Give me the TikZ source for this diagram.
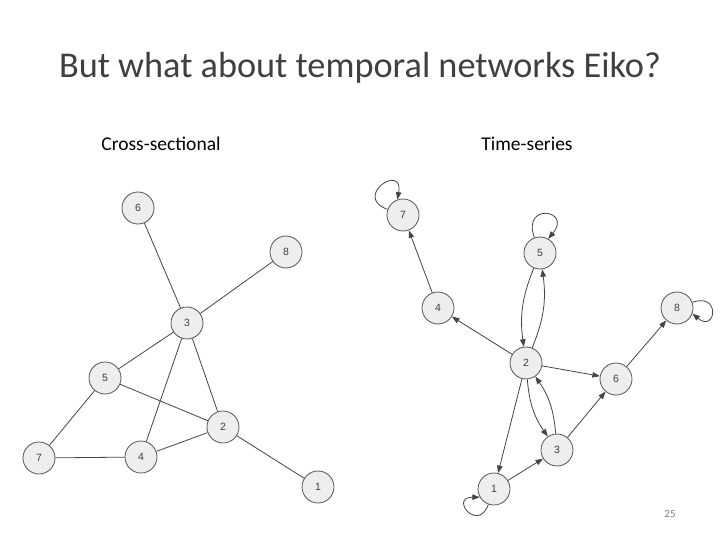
\documentclass[tikz,border=0pt]{standalone}
\usepackage{fontspec}
\setmainfont{Carlito}
\newfontfamily\nodefont{Liberation Sans}
\usetikzlibrary{arrows.meta}
\definecolor{edgecol}{HTML}{454545}
\definecolor{nodefill}{HTML}{EEEEEE}
\definecolor{nodedraw}{HTML}{555555}
\definecolor{textcol}{HTML}{404040}
\tikzset{
  vtx/.style={circle,draw=nodedraw,fill=nodefill,line width=0.8pt,minimum size=32pt,inner sep=0pt,font=\nodefont\fontsize{10.5}{12}\selectfont,text=textcol},
  edge/.style={draw=edgecol,line width=0.8pt},
  arr/.style={edge,-{Triangle[length=7.5pt,width=5.5pt]}},
  lp/.style={arr,looseness=7,min distance=15pt}
}
\begin{document}
\begin{tikzpicture}[x=1pt,y=-1pt]
\useasboundingbox (0,0) rectangle (720,540);
\fill[white] (0,0) rectangle (720,540);
\node[text=textcol,font=\fontsize{36.3}{40}\selectfont] (title) at (360,68) {But what about temporal networks Eiko?};
\node[text=black,font=\fontsize{19.5}{22}\selectfont] (lcap) at (161,144) {Cross-sectional};
\node[text=black,font=\fontsize{19.5}{22}\selectfont] (rcap) at (527,144) {Time-series};
\node[text=gray,font=\fontsize{11}{13}\selectfont] (page) at (670,514) {25};
% left graph
\node[vtx] (L6) at (138,208) {6};
\node[vtx] (L8) at (286,252) {8};
\node[vtx] (L3) at (187,323) {3};
\node[vtx] (L5) at (105,378) {5};
\node[vtx] (L2) at (223,427) {2};
\node[vtx] (L7) at (39,458) {7};
\node[vtx] (L4) at (141,457) {4};
\node[vtx] (L1) at (318,487) {1};
\draw[edge] (L6) -- (L3);
\draw[edge] (L8) -- (L3);
\draw[edge] (L3) -- (L5);
\draw[edge] (L3) -- (L4);
\draw[edge] (L3) -- (L2);
\draw[edge] (L5) -- (L2);
\draw[edge] (L5) -- (L7);
\draw[edge] (L7) -- (L4);
\draw[edge] (L4) -- (L2);
\draw[edge] (L2) -- (L1);
% right graph
\node[vtx] (R7) at (403,215) {7};
\node[vtx] (R5) at (540,253) {5};
\node[vtx] (R4) at (438,308) {4};
\node[vtx] (R8) at (677,308) {8};
\node[vtx] (R2) at (526,363) {2};
\node[vtx] (R6) at (616,379) {6};
\node[vtx] (R3) at (557,450) {3};
\node[vtx] (R1) at (494,489) {1};
\draw[arr] (R4) -- (R7);
\draw[arr] (R2) -- (R4);
\draw[arr] (R5) to[bend right=15] (R2);
\draw[arr] (R2) to[bend right=15] (R5);
\draw[arr] (R2) -- (R6);
\draw[arr] (R6) -- (R8);
\draw[arr] (R3) -- (R6);
\draw[arr] (R2) to[bend right=15] (R3);
\draw[arr] (R3) to[bend right=15] (R2);
\draw[arr] (R2) -- (R1);
\draw[arr] (R1) -- (R3);
\draw[lp] (R7.160) to[out=160,in=80] (R7.110);
\draw[lp] (R5.110) to[out=110,in=50] (R5.60);
\draw[lp] (R8.20) to[out=20,in=-40] (R8.-20);
\draw[lp] (R1.-110) to[out=-110,in=180] (R1.-150);
\end{tikzpicture}
\end{document}
